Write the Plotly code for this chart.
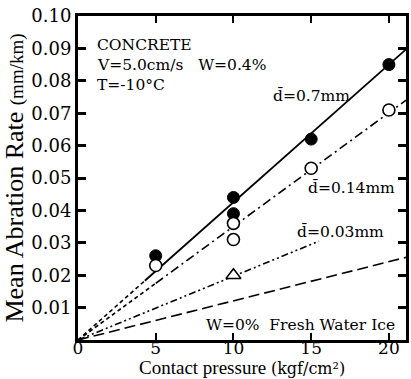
import plotly.graph_objects as go

# ---- data ----
p_filled = [5, 10, 10, 15, 20]
r_filled = [0.026, 0.044, 0.039, 0.062, 0.085]      # d=0.7mm
p_open = [5, 10, 10, 15, 20]
r_open = [0.023, 0.036, 0.031, 0.053, 0.071]        # d=0.14mm
p_tri = [10]
r_tri = [0.020]                                      # d=0.03mm

# fitted lines (start/end points)
fit07_x = [4.3, 21.1]
fit07_y = [0.0183, 0.0897]
fit07_ext_x = [0, 4.3]
fit07_ext_y = [0, 0.0183]
fit014_x = [5.0, 21.1]
fit014_y = [0.0175, 0.0740]
fit014_ext_x = [0, 5.0]
fit014_ext_y = [0, 0.0175]
fit003_x = [0, 15.5]
fit003_y = [0, 0.0305]
fresh_x = [0, 21.1]
fresh_y = [0, 0.0255]

x_ticks = [0, 5, 10, 15, 20]
y_ticks = [0.01, 0.02, 0.03, 0.04, 0.05, 0.06, 0.07, 0.08, 0.09, 0.10]
y_ticktext = ["0.01", "0.02", "0.03", "0.04", "0.05", "0.06", "0.07", "0.08", "0.09", "0.10"]

SERIF = "Liberation Serif"
TICKF = "DejaVu Serif"

W, H = 411, 379
ML, MR, MT, MB = 78, 2, 16, 39
PH = H - MT - MB

fig = go.Figure()

def line(x, y, dash, w=1.6):
    fig.add_trace(go.Scatter(x=x, y=y, mode="lines",
                             line=dict(color="black", width=w, dash=dash),
                             hoverinfo="skip", showlegend=False))

line(fit07_x, fit07_y, "solid", 1.8)
line(fit07_ext_x, fit07_ext_y, "4px,3px")
line(fit014_x, fit014_y, "9px,4px,2px,4px")
line(fit014_ext_x, fit014_ext_y, "4px,3px")
line(fit003_x, fit003_y, "7px,3px,2px,3px,2px,3px")
line(fresh_x, fresh_y, "11px,5px")

fig.add_trace(go.Scatter(x=p_filled, y=r_filled, mode="markers",
                         marker=dict(symbol="circle", size=12, color="black",
                                     line=dict(color="black", width=1)),
                         showlegend=False))
fig.add_trace(go.Scatter(x=p_open, y=r_open, mode="markers",
                         marker=dict(symbol="circle", size=12, color="white",
                                     line=dict(color="black", width=1.6)),
                         showlegend=False))
fig.add_trace(go.Scatter(x=p_tri, y=r_tri, mode="markers",
                         marker=dict(symbol="triangle-up", size=13, color="white",
                                     line=dict(color="black", width=1.5)),
                         showlegend=False))

ann_font = dict(family=TICKF, size=15.5, color="black")
notes = [
    (1.08, 0.0911, "CONCRETE"),
    (1.08, 0.0849, "V=5.0cm/s   W=0.4%"),
    (1.08, 0.0788, "T=-10°C"),
    (12.43, 0.0754, "d\u0304=0.7mm"),
    (14.66, 0.0468, "d\u0304=0.14mm"),
    (13.96, 0.0332, "d\u0304=0.03mm"),
    (8.09, 0.0046, "W=0%  Fresh Water Ice"),
]
for x, y, t in notes:
    fig.add_annotation(x=x, y=y, text=t, showarrow=False, xanchor="left",
                       yanchor="middle", font=ann_font)

# x-axis title placed at the bottom edge of the figure
fig.add_annotation(xref="paper", yref="paper", x=0.5, y=-MB / PH,
                   xanchor="center", yanchor="bottom", showarrow=False,
                   text="Contact pressure <span style='font-size:16px;font-family:DejaVu Serif'>(kgf/cm²)</span>",
                   font=dict(family=SERIF, size=19, color="black"), borderpad=0)

fig.update_layout(
    width=W, height=H,
    margin=dict(l=ML, r=MR, t=MT, b=MB),
    paper_bgcolor="white", plot_bgcolor="white",
    showlegend=False,
)
fig.update_xaxes(range=[0, 21.1], tickvals=x_ticks, ticks="inside", ticklen=7,
                 tickwidth=2, tickcolor="black", showgrid=False, zeroline=False,
                 showline=True, linewidth=3, linecolor="black", mirror="ticks",
                 ticklabelstandoff=-9,
                 tickfont=dict(family=TICKF, size=17, color="black"))
fig.update_yaxes(range=[0, 0.10], tickvals=y_ticks, ticktext=y_ticktext,
                 ticks="inside", ticklen=8, tickwidth=2.5, tickcolor="black",
                 showgrid=False, zeroline=False, showline=True, linewidth=3,
                 linecolor="black", mirror="ticks",
                 tickfont=dict(family=TICKF, size=18, color="black"),
                 title=dict(text="Mean Abration Rate <span style='font-size:19px'>(mm/km)</span>",
                            font=dict(family=SERIF, size=26, color="black"), standoff=1))

fig.write_html("out.html")
